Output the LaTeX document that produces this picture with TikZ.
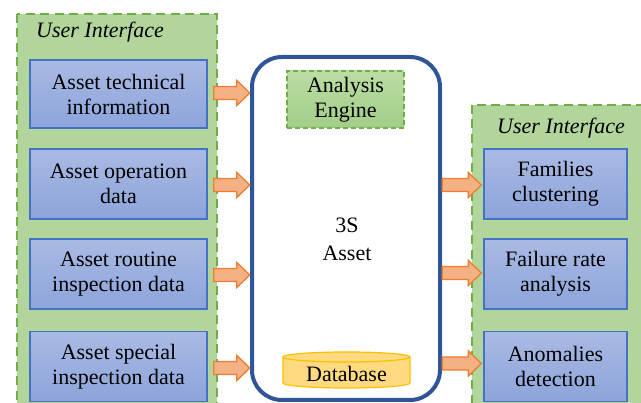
\documentclass[tikz,border=0pt]{standalone}
\usepackage{fontspec}
\setmainfont{Liberation Serif}
\newfontfamily\tnr{Liberation Serif}
\usetikzlibrary{calc}
\definecolor{uifill}{HTML}{B1D59B}
\definecolor{uidash}{HTML}{70AD47}
\definecolor{boxtop}{HTML}{A9BAE3}
\definecolor{boxbot}{HTML}{8DA4DB}
\definecolor{boxline}{HTML}{4472C4}
\definecolor{coreline}{HTML}{2F5597}
\definecolor{engtop}{HTML}{BADDA4}
\definecolor{engbot}{HTML}{A2CD87}
\definecolor{dbfill}{HTML}{FFDA80}
\definecolor{dbline}{HTML}{FFC000}
\definecolor{arrfill}{HTML}{F4B183}
\definecolor{arrline}{HTML}{ED7D31}
\tikzset{
  uipanel/.style={fill=uifill, draw=uidash, line width=2.6pt, dash pattern=on 9pt off 5.5pt},
  infobox/.style={draw=boxline, line width=1.3pt, top color=boxtop, bottom color=boxbot,
    minimum width=177pt, minimum height=70pt, align=center, inner sep=0pt,
    font=\tnr\fontsize{22}{25}\selectfont},
  rinfobox/.style={infobox, minimum width=143pt},
  uititle/.style={font=\tnr\fontsize{22}{25}\selectfont\itshape, inner sep=0pt},
  core/.style={draw=coreline, line width=4pt, rounded corners=30pt, fill=white},
  engine/.style={draw=uidash, line width=1.4pt, dash pattern=on 5pt off 3pt,
    top color=engtop, bottom color=engbot, minimum width=117pt, minimum height=57pt,
    align=center, inner sep=0pt, font=\tnr\fontsize{22}{25}\selectfont},
  plain/.style={align=center, inner sep=0pt, font=\tnr\fontsize{22}{28}\selectfont},
  barrow/.style={fill=arrfill, draw=arrline, line width=1.3pt, line join=miter},
}
\newcommand\blockarr[2]{%
  \draw[barrow] let \p1=(#1), \p2=(#2) in
    (\x1,\y1+6.5pt) -- (\x2-13pt,\y1+6.5pt) -- (\x2-13pt,\y1+12.5pt) -- (\x2,\y1)
    -- (\x2-13pt,\y1-12.5pt) -- (\x2-13pt,\y1-6.5pt) -- (\x1,\y1-6.5pt) -- cycle;}
\begin{document}
\begin{tikzpicture}[x=1pt,y=1pt]
\useasboundingbox (0,0) rectangle (641,-403);
% left user interface panel
\path[uipanel] (17,-14) rectangle (217,-410);
\node[uititle] (ltitle) at (100,-32) {User Interface};
\node[infobox, minimum height=68pt] (l1) at (118.5,-94) {Asset technical\\information};
\node[infobox] (l2) at (118.5,-184) {Asset operation\\data};
\node[infobox] (l3) at (118.5,-274) {Asset routine\\inspection data};
\node[infobox] (l4) at (118.5,-366.5) {Asset special\\inspection data};
% right user interface panel
\path[uipanel] (472,-105) rectangle (645,-410);
\node[uititle] (rtitle) at (561,-128) {User Interface};
\node[rinfobox] (r1) at (555.5,-184) {Families\\clustering};
\node[rinfobox] (r2) at (555.5,-274) {Failure rate\\analysis};
\node[rinfobox] (r3) at (555.5,-366.5) {Anomalies\\detection};
% core
\draw[core] (252,-57) rectangle (440,-400);
\node[inner sep=0pt, minimum width=188pt, minimum height=343pt] (coreN) at (346,-228.5) {};
\node[engine] (eng) at (345.5,-99.5) {Analysis\\Engine};
\node[plain] (three) at (347,-239) {3S\\Asset};
% database cylinder
\fill[dbfill] (283,-357) -- (283,-383) arc[start angle=180,end angle=360,x radius=63.5pt,y radius=5pt]
  -- (410,-357) arc[start angle=0,end angle=180,x radius=63.5pt,y radius=5pt] -- cycle;
\draw[dbline, line width=1.2pt] (283,-357) -- (283,-383) arc[start angle=180,end angle=360,x radius=63.5pt,y radius=5pt]
  -- (410,-357);
\draw[dbline, line width=1.2pt, fill=dbfill] (346.5,-357) ellipse[x radius=63.5pt, y radius=5pt];
\node[plain] (db) at (346.5,-374) {Database};
% arrows in
\coordinate (a1s) at ($(l1.east)+(6,1)$);
\coordinate (a2s) at ($(l2.east)+(6,-1)$);
\coordinate (a3s) at ($(l3.east)+(6,-1)$);
\coordinate (a4s) at ($(l4.east)+(6,-1.5)$);
\blockarr{a1s}{$(a1s -| coreN.west)+(-2,0)$}
\blockarr{a2s}{$(a2s -| coreN.west)+(-2,0)$}
\blockarr{a3s}{$(a3s -| coreN.west)+(-2,0)$}
\blockarr{a4s}{$(a4s -| coreN.west)+(-2,0)$}
% arrows out
\coordinate (b1s) at ($(coreN.east |- r1.west)+(2,-1)$);
\coordinate (b2s) at ($(coreN.east |- r2.west)+(2,1)$);
\coordinate (b3s) at ($(coreN.east |- r3.west)+(2,3)$);
\blockarr{b1s}{$(r1.west)+(-2,-1)$}
\blockarr{b2s}{$(r2.west)+(-2,1)$}
\blockarr{b3s}{$(r3.west)+(-2,3)$}
\end{tikzpicture}
\end{document}
